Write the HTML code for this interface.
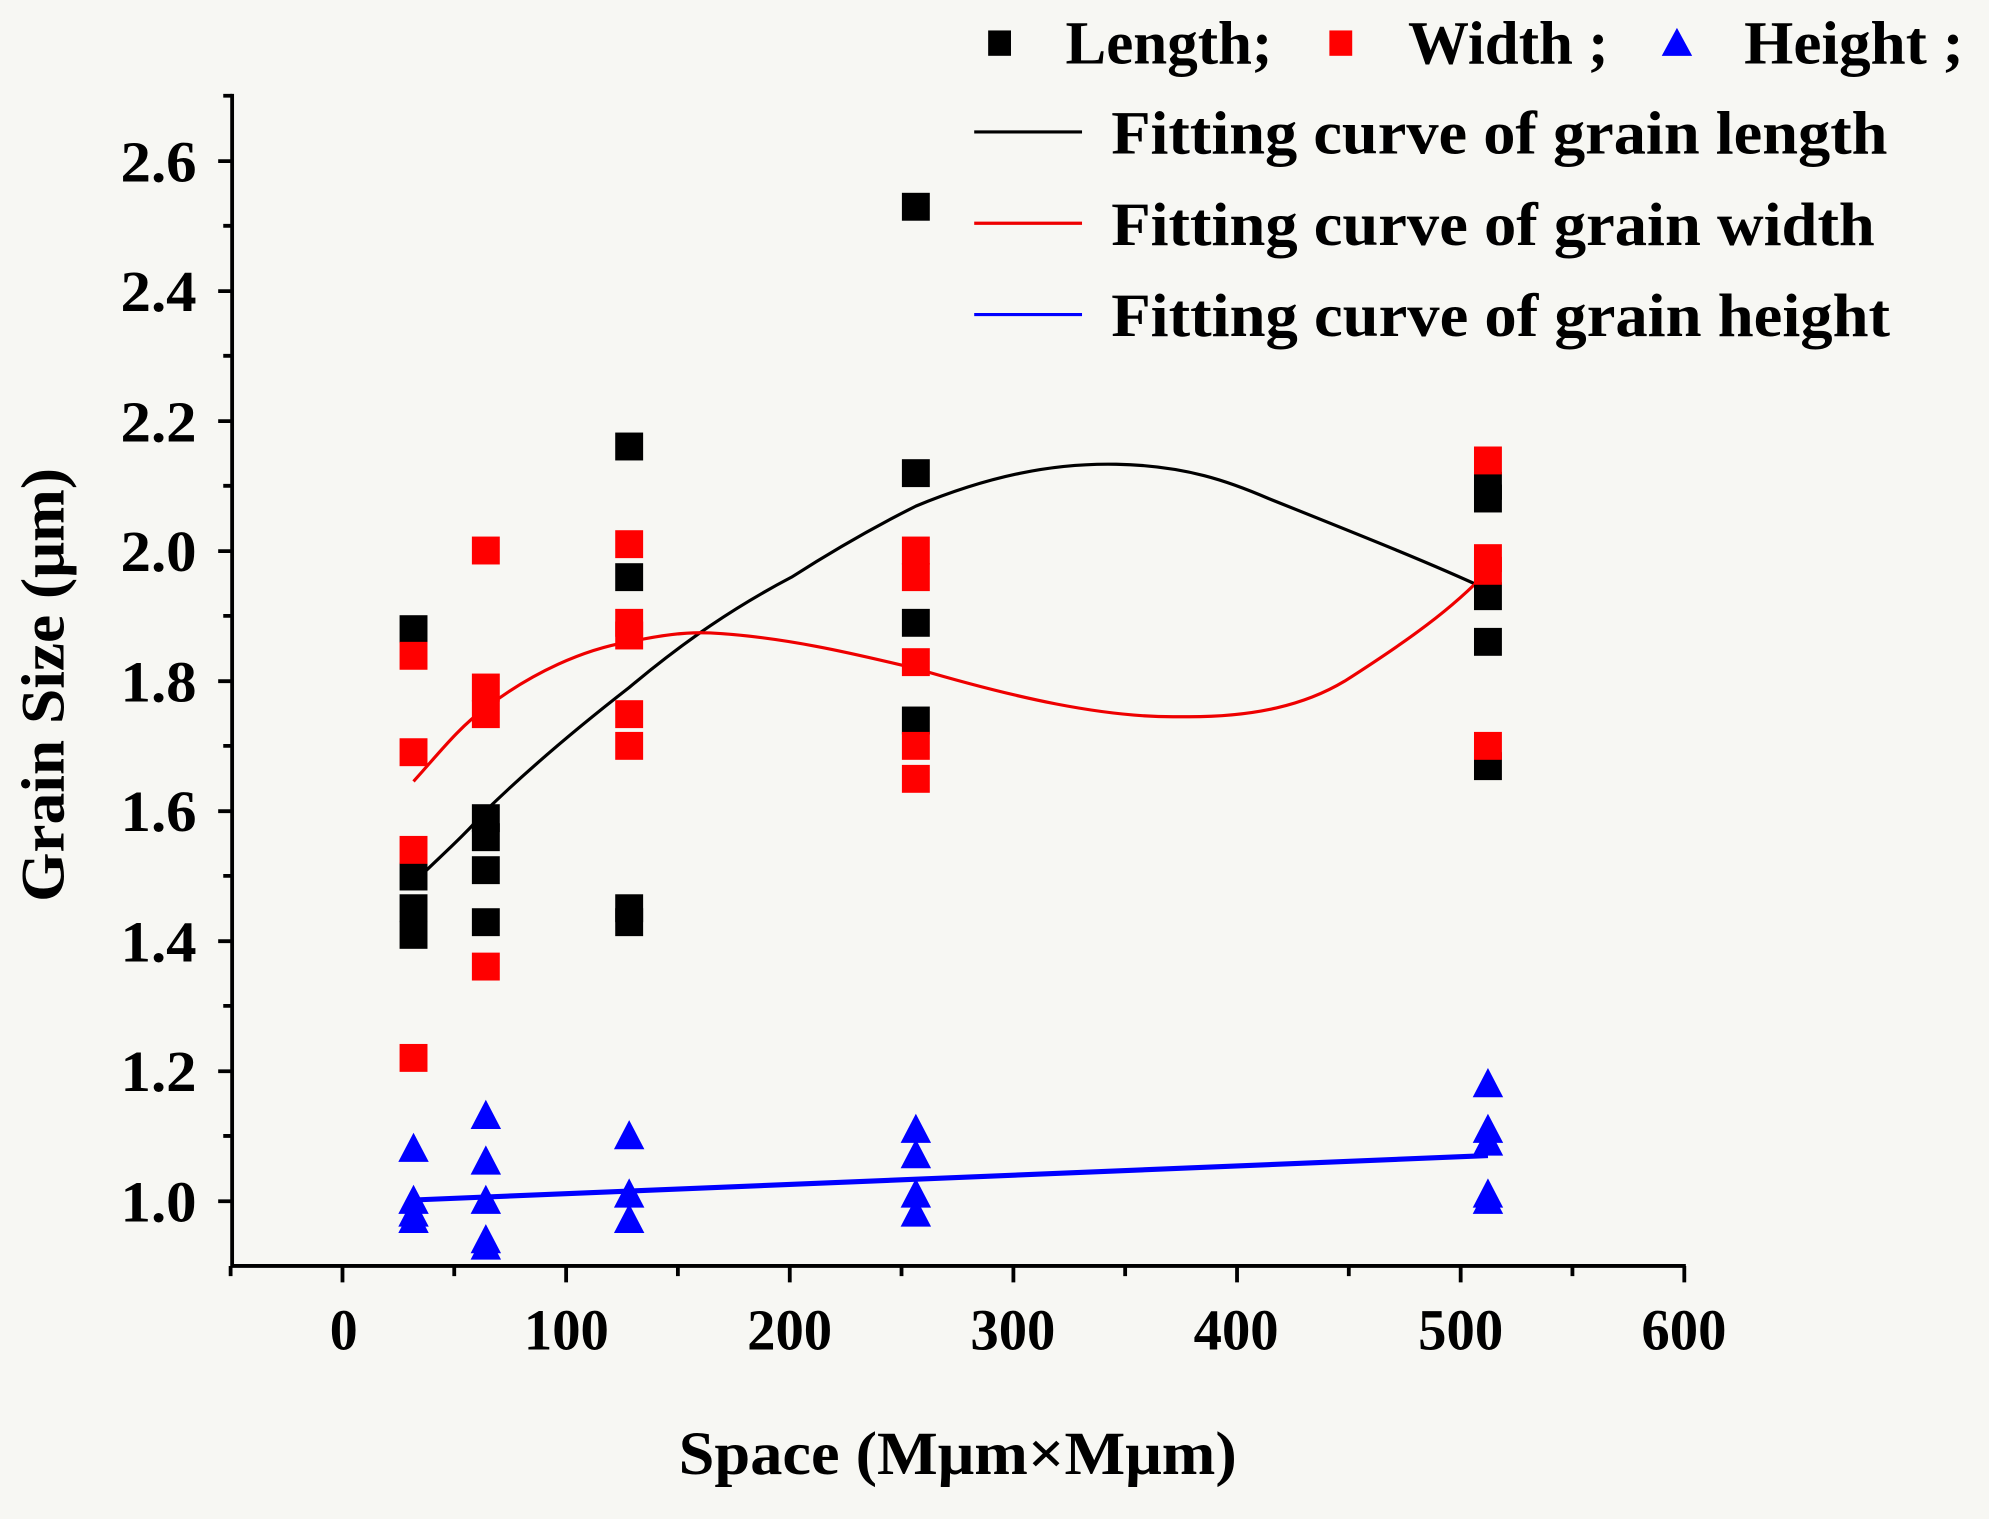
<!DOCTYPE html>
<html><head><meta charset="utf-8"><style>
html,body{margin:0;padding:0;background:#f7f7f3;}
svg{display:block;}
text{font-family:"Liberation Serif",serif;font-weight:bold;fill:#000;}
</style></head><body>
<svg width="1989" height="1519" viewBox="0 0 1568 1197.5" preserveAspectRatio="none" xmlns="http://www.w3.org/2000/svg">
<defs>
<rect id="s" x="-11" y="-11" width="22" height="22"/>
<path id="t" d="M0,-13 L12,10 L-12,10 Z"/>
</defs>
<rect width="1568" height="1198" fill="#f7f7f3"/>
<g stroke="#000" stroke-width="3" fill="none">
<line x1="183" y1="74" x2="183" y2="999"/>
<line x1="182" y1="998" x2="1329" y2="998"/>
<path d="M172,127H183M172,229.5H183M172,332H183M172,434.5H183M172,537H183M172,639.5H183M172,742H183M172,844.5H183M172,947H183"/>
<path d="M176,75.5H183M176,178H183M176,280.5H183M176,383H183M176,485.5H183M176,588H183M176,690.5H183M176,793H183M176,895.5H183"/>
<path d="M270,998V1011M446.3,998V1011M622.6,998V1011M798.9,998V1011M975.2,998V1011M1151.5,998V1011M1327.8,998V1011"/>
<path d="M181.8,998V1006M358.1,998V1006M534.4,998V1006M710.7,998V1006M887,998V1006M1063.3,998V1006M1239.6,998V1006"/>
</g>
<g font-size="46">
<text x="95" y="143" textLength="60" lengthAdjust="spacingAndGlyphs">2.6</text>
<text x="95" y="245" textLength="60" lengthAdjust="spacingAndGlyphs">2.4</text>
<text x="95" y="348" textLength="60" lengthAdjust="spacingAndGlyphs">2.2</text>
<text x="95" y="450" textLength="60" lengthAdjust="spacingAndGlyphs">2.0</text>
<text x="95" y="553" textLength="60" lengthAdjust="spacingAndGlyphs">1.8</text>
<text x="95" y="655" textLength="60" lengthAdjust="spacingAndGlyphs">1.6</text>
<text x="95" y="758" textLength="60" lengthAdjust="spacingAndGlyphs">1.4</text>
<text x="95" y="860" textLength="60" lengthAdjust="spacingAndGlyphs">1.2</text>
<text x="95" y="963" textLength="60" lengthAdjust="spacingAndGlyphs">1.0</text>
</g>
<g font-size="46">
<text x="260" y="1064" textLength="22" lengthAdjust="spacingAndGlyphs">0</text>
<text x="413" y="1064" textLength="67" lengthAdjust="spacingAndGlyphs">100</text>
<text x="589" y="1064" textLength="67" lengthAdjust="spacingAndGlyphs">200</text>
<text x="765" y="1064" textLength="67" lengthAdjust="spacingAndGlyphs">300</text>
<text x="941" y="1064" textLength="67" lengthAdjust="spacingAndGlyphs">400</text>
<text x="1118" y="1064" textLength="67" lengthAdjust="spacingAndGlyphs">500</text>
<text x="1294" y="1064" textLength="67" lengthAdjust="spacingAndGlyphs">600</text>
</g>
<text x="755" y="1162" font-size="48" text-anchor="middle" textLength="440" lengthAdjust="spacingAndGlyphs">Space (Mμm×Mμm)</text>
<text transform="translate(50,540) rotate(-90)" font-size="48" text-anchor="middle" textLength="342" lengthAdjust="spacingAndGlyphs">Grain Size (μm)</text>
<path d="M326,696 C345,677 365,660 383,639 C420,603 460,570 496,542 C540,505 580,478 624,455 C660,432 690,415 722,399 C780,375 830,365 880,366 C935,367 970,380 1000,393 C1080,425 1130,445 1173,465" fill="none" stroke="#000" stroke-width="2.5"/>
<path d="M326,616 C345,595 362,573 383,558 C420,530 460,512 496,506 C520,501 540,498 560,499 C620,502 680,517 722,527 C800,550 870,566 930,565 C990,566 1030,555 1060,537 C1110,505 1145,480 1173,450" fill="none" stroke="#e00" stroke-width="2.5"/>
<path d="M326,946 L1173,911" fill="none" stroke="#00f" stroke-width="4"/>
<g fill="#000">
<use href="#s" x="326" y="496"/><use href="#s" x="326" y="691"/><use href="#s" x="326" y="716"/><use href="#s" x="326" y="737"/>
<use href="#s" x="383" y="645"/><use href="#s" x="383" y="660"/><use href="#s" x="383" y="686"/><use href="#s" x="383" y="727"/>
<use href="#s" x="496" y="352"/><use href="#s" x="496" y="455"/><use href="#s" x="496" y="716"/><use href="#s" x="496" y="727"/>
<use href="#s" x="722" y="163"/><use href="#s" x="722" y="373"/><use href="#s" x="722" y="491"/><use href="#s" x="722" y="568"/>
<use href="#s" x="1173" y="383"/><use href="#s" x="1173" y="393"/><use href="#s" x="1173" y="470"/><use href="#s" x="1173" y="506"/><use href="#s" x="1173" y="604"/>
</g>
<g fill="#f00">
<use href="#s" x="326" y="517"/><use href="#s" x="326" y="593"/><use href="#s" x="326" y="670"/><use href="#s" x="326" y="834"/>
<use href="#s" x="383" y="434"/><use href="#s" x="383" y="542"/><use href="#s" x="383" y="563"/><use href="#s" x="383" y="762"/>
<use href="#s" x="496" y="429"/><use href="#s" x="496" y="491"/><use href="#s" x="496" y="501"/><use href="#s" x="496" y="563"/><use href="#s" x="496" y="588"/>
<use href="#s" x="722" y="434"/><use href="#s" x="722" y="455"/><use href="#s" x="722" y="522"/><use href="#s" x="722" y="588"/><use href="#s" x="722" y="614"/>
<use href="#s" x="1173" y="363"/><use href="#s" x="1173" y="440"/><use href="#s" x="1173" y="450"/><use href="#s" x="1173" y="588"/>
</g>
<g fill="#00f">
<use href="#t" x="326" y="906"/><use href="#t" x="326" y="947"/><use href="#t" x="326" y="957"/><use href="#t" x="326" y="962"/>
<use href="#t" x="383" y="880"/><use href="#t" x="383" y="916"/><use href="#t" x="383" y="947"/><use href="#t" x="383" y="978"/><use href="#t" x="383" y="983"/>
<use href="#t" x="496" y="896"/><use href="#t" x="496" y="942"/><use href="#t" x="496" y="962"/>
<use href="#t" x="722" y="891"/><use href="#t" x="722" y="911"/><use href="#t" x="722" y="942"/><use href="#t" x="722" y="957"/>
<use href="#t" x="1173" y="855"/><use href="#t" x="1173" y="891"/><use href="#t" x="1173" y="901"/><use href="#t" x="1173" y="942"/><use href="#t" x="1173" y="947"/>
</g>
<rect x="779" y="24" width="18" height="20" fill="#000"/>
<rect x="1048" y="24" width="18" height="20" fill="#f00"/>
<path d="M1322,22 L1334,44 L1310,44 Z" fill="#00f"/>
<g font-size="48">
<text x="840" y="50" textLength="163" lengthAdjust="spacingAndGlyphs">Length;</text>
<text x="1110" y="50" textLength="158" lengthAdjust="spacingAndGlyphs">Width ;</text>
<text x="1375" y="50" textLength="173" lengthAdjust="spacingAndGlyphs">Height ;</text>
<text x="876" y="121" textLength="612" lengthAdjust="spacingAndGlyphs">Fitting curve of grain length</text>
<text x="876" y="193" textLength="602" lengthAdjust="spacingAndGlyphs">Fitting curve of grain width</text>
<text x="876" y="265" textLength="614" lengthAdjust="spacingAndGlyphs">Fitting curve of grain height</text>
</g>
<line x1="768" y1="104" x2="853" y2="104" stroke="#000" stroke-width="2.5"/>
<line x1="768" y1="176" x2="853" y2="176" stroke="#e00" stroke-width="2.5"/>
<line x1="768" y1="248" x2="853" y2="248" stroke="#00f" stroke-width="2.5"/>
</svg>
</body></html>
